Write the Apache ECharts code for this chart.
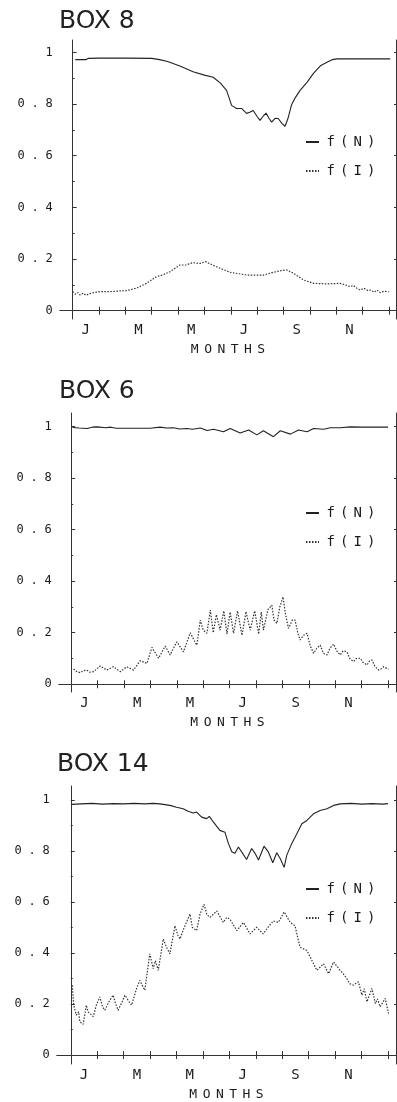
<!DOCTYPE html>
<html><head><meta charset="utf-8">
<script src="https://cdn.jsdelivr.net/npm/echarts@6/dist/echarts.min.js"></script>
<style>html,body{margin:0;padding:0;background:#fff}#c{width:397px;height:1102px}</style>
</head><body><div id="c"></div>
<script>
// ---- data (x = month index, 0 = start of January; y = fraction) ----
const titles = ['BOX 8', 'BOX 6', 'BOX 14'];
const seriesNames = ['f(N)', 'f(I)'];
const monthLabels = ['J', 'M', 'M', 'J', 'S', 'N'];
const monthLabelPos = [0.5, 2.5, 4.5, 6.5, 8.5, 10.5];
const monthTicks = [0,1,2,3,4,5,6,7,8,9,10,11,12];
const yTickValues = [0, 0.2, 0.4, 0.6, 0.8, 1];
const yTickLabels = ['0', '0.2', '0.4', '0.6', '0.8', '1'];
const yMinorTicks = [0.1, 0.3, 0.5, 0.7, 0.9];
const xAxisLabel = 'MONTHS';

const box8_fN = [[0.1,0.972],[0.5,0.972],[0.6,0.977],[1,0.978],[2,0.978],[3,0.977],[3.3,0.972],[3.6,0.965],[4.07,0.947],[4.57,0.925],[5.0,0.912],[5.33,0.904],[5.6,0.882],[5.84,0.853],[5.95,0.82],[6.03,0.795],[6.22,0.783],[6.41,0.783],[6.6,0.764],[6.72,0.768],[6.85,0.775],[7.0,0.752],[7.11,0.737],[7.22,0.752],[7.34,0.765],[7.45,0.745],[7.55,0.73],[7.68,0.745],[7.8,0.744],[7.94,0.725],[8.06,0.714],[8.17,0.744],[8.3,0.795],[8.45,0.825],[8.63,0.853],[8.9,0.885],[9.13,0.918],[9.4,0.948],[9.65,0.962],[9.85,0.972],[10.03,0.975],[11,0.975],[12.05,0.975]];
const box8_fI = [[0,0.074],[0.1,0.064],[0.2,0.07],[0.27,0.061],[0.4,0.068],[0.5,0.06],[0.65,0.066],[0.8,0.07],[1.03,0.074],[1.4,0.074],[2.04,0.078],[2.42,0.087],[2.8,0.106],[3.18,0.132],[3.4,0.138],[3.69,0.151],[4.07,0.177],[4.32,0.177],[4.45,0.183],[4.57,0.186],[4.83,0.183],[5.04,0.19],[5.46,0.17],[5.97,0.149],[6.6,0.138],[7.24,0.138],[7.62,0.149],[7.9,0.155],[8.12,0.158],[8.38,0.145],[8.76,0.119],[9.14,0.106],[9.65,0.104],[10.15,0.106],[10.35,0.1],[10.53,0.093],[10.65,0.098],[10.8,0.086],[10.91,0.08],[11.05,0.087],[11.2,0.078],[11.29,0.08],[11.45,0.072],[11.55,0.08],[11.67,0.07],[11.8,0.075],[11.99,0.074]];
const box6_fN = [[0.05,0.997],[0.3,0.995],[0.6,0.993],[0.8,0.998],[1.0,0.999],[1.3,0.996],[1.5,0.998],[1.7,0.994],[2.5,0.994],[3.0,0.994],[3.37,0.998],[3.6,0.995],[3.88,0.996],[4.1,0.991],[4.38,0.993],[4.6,0.99],[4.89,0.995],[5.15,0.985],[5.39,0.99],[5.77,0.98],[6.02,0.993],[6.4,0.975],[6.72,0.987],[7.03,0.968],[7.28,0.984],[7.66,0.961],[7.92,0.984],[8.3,0.971],[8.61,0.987],[8.93,0.98],[9.18,0.993],[9.56,0.99],[9.81,0.996],[10.19,0.996],[10.57,0.999],[11,0.998],[12,0.998]];
const box6_fI = [[0.09,0.059],[0.2,0.05],[0.34,0.045],[0.45,0.052],[0.59,0.055],[0.7,0.047],[0.85,0.049],[1.1,0.071],[1.35,0.055],[1.6,0.068],[1.86,0.049],[2.11,0.068],[2.36,0.055],[2.61,0.091],[2.87,0.081],[3.06,0.143],[3.31,0.101],[3.56,0.148],[3.75,0.114],[4.0,0.165],[4.25,0.126],[4.51,0.2],[4.66,0.17],[4.76,0.152],[4.89,0.249],[5.0,0.21],[5.14,0.198],[5.27,0.288],[5.38,0.2],[5.5,0.27],[5.64,0.21],[5.78,0.285],[5.9,0.195],[6.02,0.28],[6.15,0.198],[6.3,0.285],[6.47,0.19],[6.62,0.282],[6.78,0.21],[6.95,0.285],[7.1,0.195],[7.2,0.28],[7.28,0.21],[7.45,0.29],[7.6,0.307],[7.68,0.25],[7.79,0.236],[7.9,0.3],[8.02,0.339],[8.12,0.27],[8.23,0.217],[8.38,0.25],[8.48,0.249],[8.58,0.2],[8.67,0.172],[8.8,0.19],[8.93,0.198],[9.05,0.15],[9.18,0.12],[9.3,0.14],[9.43,0.152],[9.55,0.12],[9.69,0.114],[9.8,0.14],[9.94,0.156],[10.05,0.13],[10.19,0.114],[10.3,0.13],[10.44,0.126],[10.55,0.1],[10.69,0.088],[10.8,0.1],[10.95,0.101],[11.05,0.085],[11.2,0.075],[11.3,0.09],[11.39,0.094],[11.5,0.07],[11.64,0.055],[11.75,0.06],[11.83,0.068],[12.02,0.058]];
const box14_fN = [[0.03,0.983],[0.4,0.985],[0.8,0.987],[1.2,0.984],[1.6,0.986],[2.0,0.985],[2.4,0.987],[2.8,0.985],[3.1,0.987],[3.37,0.985],[3.75,0.979],[4.0,0.972],[4.25,0.966],[4.44,0.956],[4.63,0.949],[4.76,0.953],[4.95,0.933],[5.14,0.927],[5.24,0.936],[5.39,0.914],[5.64,0.881],[5.83,0.874],[5.96,0.83],[6.09,0.797],[6.21,0.791],[6.34,0.816],[6.5,0.791],[6.65,0.767],[6.84,0.81],[6.97,0.791],[7.1,0.765],[7.31,0.819],[7.47,0.797],[7.64,0.754],[7.79,0.793],[7.92,0.771],[8.07,0.736],[8.17,0.784],[8.36,0.83],[8.55,0.868],[8.74,0.907],[8.93,0.92],[9.18,0.946],[9.43,0.959],[9.69,0.966],[9.94,0.979],[10.19,0.985],[10.6,0.987],[11.0,0.984],[11.4,0.986],[11.8,0.984],[12.0,0.986]];
const box14_fI = [[0.06,0.274],[0.11,0.196],[0.21,0.157],[0.3,0.17],[0.34,0.131],[0.47,0.121],[0.59,0.196],[0.65,0.17],[0.72,0.163],[0.85,0.151],[0.97,0.196],[1.1,0.228],[1.2,0.19],[1.29,0.176],[1.45,0.21],[1.6,0.235],[1.7,0.2],[1.79,0.176],[1.95,0.21],[2.05,0.235],[2.2,0.21],[2.3,0.196],[2.49,0.261],[2.61,0.293],[2.8,0.254],[2.99,0.397],[3.12,0.339],[3.2,0.37],[3.31,0.332],[3.5,0.455],[3.62,0.423],[3.75,0.397],[3.94,0.507],[4.05,0.47],[4.13,0.455],[4.25,0.49],[4.32,0.507],[4.51,0.553],[4.6,0.5],[4.76,0.488],[4.89,0.553],[5.04,0.591],[5.15,0.55],[5.27,0.54],[5.52,0.565],[5.77,0.52],[5.9,0.54],[6.02,0.533],[6.28,0.488],[6.53,0.52],[6.78,0.475],[7.03,0.501],[7.28,0.475],[7.45,0.5],[7.66,0.526],[7.85,0.52],[8.07,0.561],[8.3,0.52],[8.48,0.507],[8.67,0.423],[8.93,0.41],[9.12,0.371],[9.31,0.332],[9.56,0.358],[9.75,0.319],[9.94,0.365],[10.19,0.332],[10.3,0.32],[10.44,0.3],[10.55,0.28],[10.69,0.274],[10.88,0.287],[11.01,0.235],[11.1,0.26],[11.2,0.209],[11.39,0.261],[11.52,0.202],[11.6,0.22],[11.7,0.189],[11.89,0.222],[12.02,0.163]];

const panelData = [[box8_fN, box8_fI], [box6_fN, box6_fI], [box14_fN, box14_fI]];

// ---- layout ----
const panels = [
  { left: 60, top: 40, height: 279, xMin: -0.48, xMax: 12.27, yMin: -0.032, yMax: 1.048, titleTop: 9, titleLeft: 59, legendTop: 135 },
  { left: 59, top: 413, height: 279, xMin: -0.46, xMax: 12.3, yMin: -0.03, yMax: 1.053, titleTop: 379, titleLeft: 59, legendTop: 506 },
  { left: 57, top: 786, height: 280, xMin: -0.52, xMax: 12.3, yMin: -0.035, yMax: 1.055, titleTop: 752, titleLeft: 57, legendTop: 882 }
];
const MONO = 'DejaVu Sans Mono';
const ink = '#1a1a1a';
function spaced(s, key) { return s.split('').map(c => '{' + key + '|' + c + '}').join(''); }

const option = { backgroundColor: '#fff', animation: false, title: [], grid: [], xAxis: [], yAxis: [], legend: [], series: [] };

panels.forEach((p, i) => {
  option.title.push({ text: titles[i], left: p.titleLeft, top: p.titleTop, padding: 0,
    textStyle: { fontFamily: 'DejaVu Sans', fontSize: 25, fontWeight: 'normal', color: '#222' } });
  option.grid.push({ left: p.left, right: 1, top: p.top, height: p.height, containLabel: false });
  const axLine = { show: true, lineStyle: { color: '#333', width: 1 } };
  // bottom x axis
  option.xAxis.push({ type: 'value', gridIndex: i, position: 'bottom', min: p.xMin, max: p.xMax,
    axisLine: axLine, splitLine: { show: false },
    axisTick: { show: true, inside: true, length: 4, customValues: monthTicks, lineStyle: { color: '#333' } },
    axisLabel: { show: true, margin: 4, customValues: monthLabelPos,
      formatter: v => monthLabels[monthLabelPos.indexOf(v)] || '',
      fontFamily: MONO, fontSize: 14, color: ink },
    name: spaced(xAxisLabel, 'n'), nameLocation: 'middle', nameGap: 24,
    nameTextStyle: { rich: { n: { width: 13.3, align: 'center', fontFamily: MONO, fontSize: 13, color: ink } } } });
  // top x axis
  option.xAxis.push({ type: 'value', gridIndex: i, position: 'top', min: p.xMin, max: p.xMax,
    axisLine: axLine, splitLine: { show: false },
    axisTick: { show: true, inside: true, length: 4, customValues: monthTicks, lineStyle: { color: '#333' } },
    axisLabel: { show: false } });
  // left y major
  option.yAxis.push({ type: 'value', gridIndex: i, position: 'left', min: p.yMin, max: p.yMax,
    axisLine: axLine, splitLine: { show: false },
    axisTick: { show: true, inside: true, length: 4, customValues: yTickValues, lineStyle: { color: '#333' } },
    axisLabel: { show: true, margin: 4, customValues: yTickValues,
      formatter: v => { const k = yTickValues.findIndex(t => Math.abs(t - v) < 1e-9); return k < 0 ? '' : spaced(yTickLabels[k], 't'); },
      rich: { t: { width: 14, align: 'center', fontFamily: MONO, fontSize: 12, color: ink } } } });
  // left y minor ticks
  option.yAxis.push({ type: 'value', gridIndex: i, position: 'left', min: p.yMin, max: p.yMax,
    axisLine: { show: false }, splitLine: { show: false },
    axisTick: { show: true, inside: true, length: 2, customValues: yMinorTicks, lineStyle: { color: '#333' } },
    axisLabel: { show: false } });
  // right y
  option.yAxis.push({ type: 'value', gridIndex: i, position: 'right', min: p.yMin, max: p.yMax,
    axisLine: axLine, splitLine: { show: false },
    axisTick: { show: true, inside: true, length: 2, customValues: yTickValues, lineStyle: { color: '#333' } },
    axisLabel: { show: false } });

  option.legend.push({ orient: 'vertical', left: 305, top: p.legendTop, padding: 0, itemGap: 15,
    itemWidth: 13, itemHeight: 10, data: seriesNames, selectedMode: false,
    itemStyle: { opacity: 0 },
    formatter: name => spaced(name, 'l'),
    textStyle: { rich: { l: { width: 13.5, align: 'center', fontFamily: MONO, fontSize: 14, lineHeight: 15, color: ink } } } });

  const [dN, dI] = panelData[i];
  option.series.push({ name: seriesNames[0], type: 'line', xAxisIndex: 2 * i, yAxisIndex: 3 * i, data: dN,
    symbol: 'none', silent: true, lineStyle: { color: '#222', width: 1.1, type: 'solid' }, itemStyle: { color: '#222' } });
  option.series.push({ name: seriesNames[1], type: 'line', xAxisIndex: 2 * i, yAxisIndex: 3 * i, data: dI,
    symbol: 'none', silent: true, lineStyle: { color: '#333', width: 1.2, type: [1.5, 1.5] }, itemStyle: { color: '#333' } });
});

const chart = echarts.init(document.getElementById('c'), null, { renderer: 'canvas' });
chart.setOption(option);
</script>
</body></html>
